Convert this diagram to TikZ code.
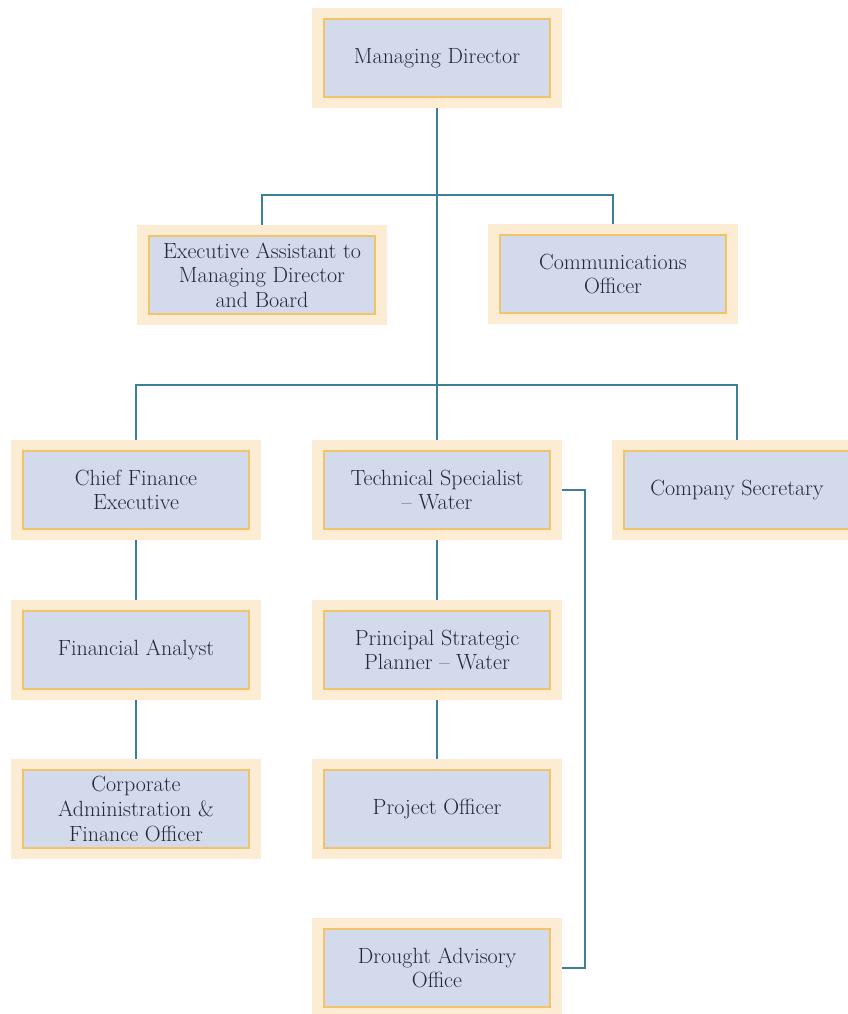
\documentclass[tikz,border=0pt]{standalone}
\usepackage{tikz}
\usetikzlibrary{positioning,calc}

\definecolor{bandcol}{HTML}{FDECD4}
\definecolor{goldcol}{HTML}{F1C46A}
\definecolor{boxcol}{HTML}{D3DAEC}
\definecolor{linecol}{HTML}{3D7E98}
\definecolor{textcol}{HTML}{23283A}

\begin{document}
\begin{tikzpicture}[
		x=0.75pt, y=-0.75pt,
		post/.style={rectangle, fill=boxcol, draw=goldcol, line width=1.5pt,
			preaction={draw=bandcol, line width=17pt},
			minimum width=170pt, minimum height=58.5pt, inner sep=2pt,
			outer sep=8.5pt, align=center, text=textcol,
			font=\fontsize{16.5}{18.5}\selectfont},
		link/.style={draw=linecol, line width=1.3pt}
		]
		\useasboundingbox (0,0) rectangle (848,1014);
		
		% junctions of the lines
		\coordinate (j1) at (437,195);
		\coordinate (j2) at (437,385);
		\coordinate (k) at (585,490);
		
		% the posts
		\node[post] (md) at (437, 58) {Managing Director};
		\node[post] (ea) at (262, 275) {Executive Assistant to\\Managing Director\\and Board};
		\node[post] (co) at (613, 274) {Communications\\Officer};
		\node[post] (cfe) at (136, 490) {Chief Finance\\Executive};
		\node[post] (ts) at (437, 490) {Technical Specialist\\\textendash{} Water};
		\node[post] (cs) at (737, 490) {Company Secretary};
		\node[post] (fa) at (136, 650) {Financial Analyst};
		\node[post] (psp) at (437, 650) {Principal Strategic\\Planner \textendash{} Water};
		\node[post] (cafo) at (136, 809) {Corporate\\Administration \&\\Finance Officer};
		\node[post] (po) at (437, 809) {Project Officer};
		\node[post] (dao) at (437, 968) {Drought Advisory\\Office};
		
		% reporting lines
		\draw[link] (md) -- (ts);
		\draw[link] (ea.north) |- (j1) -| (co.north);
		\draw[link] (cfe.north) |- (j2) -| (cs.north);
		\draw[link] (cfe) -- (fa);
		\draw[link] (fa) -- (cafo);
		\draw[link] (ts) -- (psp);
		\draw[link] (psp) -- (po);
		\draw[link] (ts.east) -- (k) |- (dao.east);
	\end{tikzpicture}
\end{document}
